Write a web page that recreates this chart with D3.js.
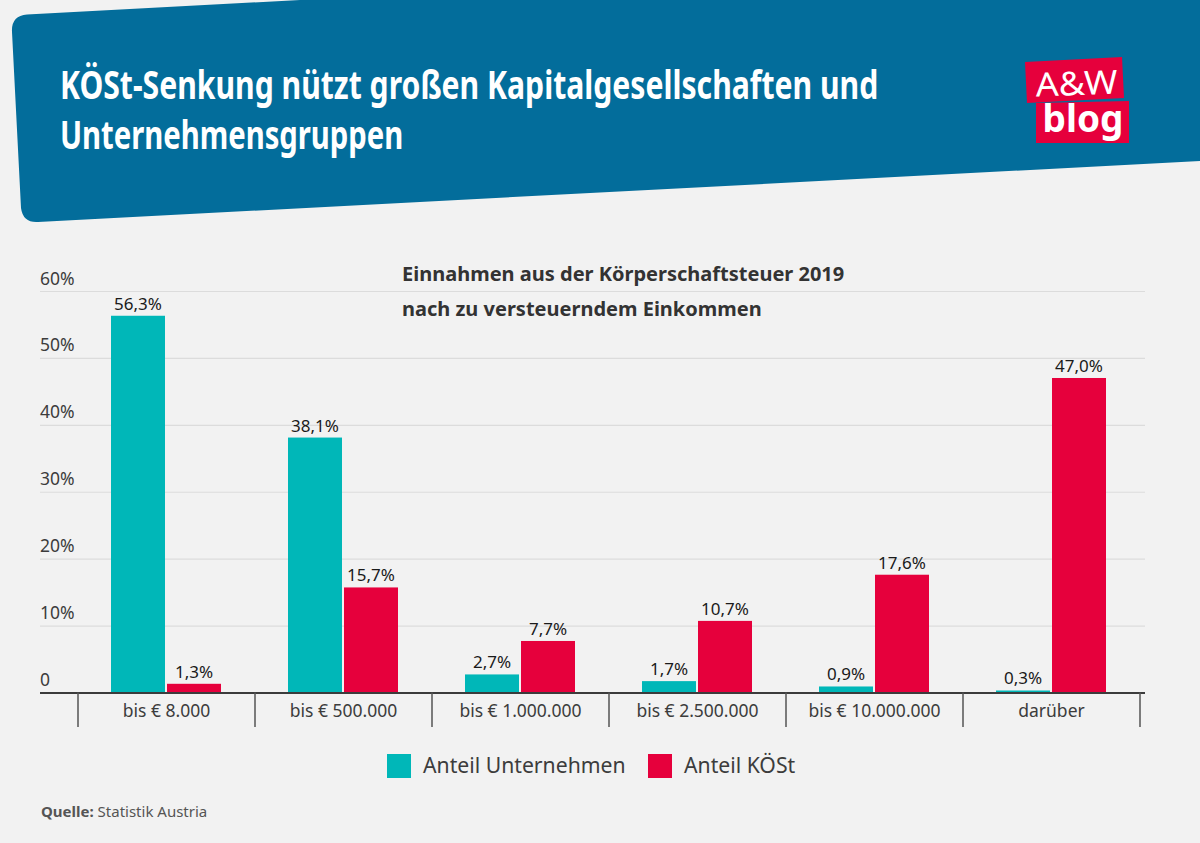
<!DOCTYPE html>
<html lang="de">
<head>
<meta charset="utf-8">
<title>KÖSt-Senkung</title>
<script src="https://cdn.jsdelivr.net/npm/d3@7/dist/d3.min.js"></script>
<style>
  html, body { margin: 0; padding: 0; background: #f2f2f2; }
  svg { display: block; }
  text { font-family: "Noto Sans", "Open Sans", sans-serif; }
</style>
</head>
<body>
<svg id="chart" width="1200" height="843"></svg>
<script>
const categories = ['bis € 8.000', 'bis € 500.000', 'bis € 1.000.000', 'bis € 2.500.000', 'bis € 10.000.000', 'darüber'];
const shareCompanies = [56.3, 38.1, 2.7, 1.7, 0.9, 0.3];
const shareTax = [1.3, 15.7, 7.7, 10.7, 17.6, 47.0];
const seriesNames = ['Anteil Unternehmen', 'Anteil KÖSt'];
const yTicks = [0, 10, 20, 30, 40, 50, 60];
const titleLines = ['KÖSt-Senkung nützt großen Kapitalgesellschaften und', 'Unternehmensgruppen'];
const subtitleLines = ['Einnahmen aus der Körperschaftsteuer 2019', 'nach zu versteuerndem Einkommen'];

const TEAL = '#00b7b8', RED = '#e6003c', BLUE = '#036d9b', INK = '#3c3c3c';
const svg = d3.select('#chart');

// Header band, slanted
svg.append('path').attr('fill', BLUE)
  .attr('d', 'M12,32 Q11,16 27,14.5 L300,0 L1200,0 L1200,161 L38,222 Q23,223 21,208 Z');

// Title, squeezed because no narrow PT Sans is available
const titleScale = [0.754, 0.731];
const title = svg.append('g').attr('fill', '#fff').attr('font-weight', 700);
titleLines.forEach((line, i) => {
  title.append('text').attr('transform', `translate(60,${99 + i * 50}) scale(${titleScale[i]},1)`)
    .attr('font-size', 40).text(line);
});

// Logo
const logo = svg.append('g');
logo.append('path').attr('fill', RED).attr('d', 'M1025,62 L1122,57 L1124,98 L1027,103 Z');
logo.append('path').attr('fill', RED).attr('d', 'M1036,103 L1129,101 L1129,143 L1036,143 Z');
logo.append('text').attr('x', 1077).attr('y', 95).attr('text-anchor', 'middle')
  .attr('transform', 'rotate(-2 1077 95)')
  .attr('fill', '#fff').attr('font-size', 33).attr('textLength', 82).attr('lengthAdjust', 'spacingAndGlyphs').text('A&W');
logo.append('text').attr('x', 1083).attr('y', 132).attr('text-anchor', 'middle')
  .attr('fill', '#fff').attr('font-size', 37).attr('font-weight', 700).text('blog');

// Scales
const y = d3.scaleLinear().domain([0, 60]).range([692.5, 291]);
const x = d3.scaleBand().domain(categories).range([78, 1140]);
const inner = d3.scaleBand().domain([0, 1]).range([33, 143]).paddingInner(0.036);

// Grid lines and y labels
const axisY = svg.append('g').attr('transform', 'translate(40,0)')
  .call(d3.axisLeft(y).tickValues(yTicks).tickSize(-1105).tickFormat(d => d === 0 ? '0' : d + '%'));
axisY.select('.domain').remove();
axisY.selectAll('.tick line').attr('stroke', '#dcdcdc').attr('stroke-width', 1.2);
axisY.selectAll('.tick text').attr('x', 0).attr('dy', -7).attr('text-anchor', 'start')
  .style('font-family', '"Noto Sans", sans-serif').attr('font-size', 17.5).attr('fill', INK);
axisY.selectAll('.tick').filter(d => d === 0).select('line').remove();

// Bars
const series = [shareCompanies, shareTax];
const colors = [TEAL, RED];
series.forEach((vals, s) => {
  const g = svg.append('g');
  g.selectAll('rect').data(vals).join('rect')
    .attr('x', (d, i) => x(categories[i]) + inner(s))
    .attr('y', d => y(d))
    .attr('width', inner.bandwidth())
    .attr('height', d => y(0) - y(d))
    .attr('fill', colors[s]);
  g.selectAll('text').data(vals).join('text')
    .attr('x', (d, i) => x(categories[i]) + inner(s) + inner.bandwidth() / 2)
    .attr('y', d => y(d) - 6)
    .attr('text-anchor', 'middle').attr('font-size', 17).attr('fill', '#1a1a1a')
    .text(d => d.toFixed(1).replace('.', ',') + '%');
});

// X axis
const boundaries = categories.map(c => x(c)).concat(x.range()[1]);
svg.append('line').attr('x1', 40).attr('x2', 1145).attr('y1', y(0) + 0.5).attr('y2', y(0) + 0.5)
  .attr('stroke', INK).attr('stroke-width', 2);
svg.append('g').selectAll('line').data(boundaries).join('line')
  .attr('x1', d => d).attr('x2', d => d).attr('y1', y(0)).attr('y2', 727)
  .attr('stroke', '#555').attr('stroke-width', 1.5);
svg.append('g').selectAll('text').data(categories).join('text')
  .attr('x', d => x(d) + x.bandwidth() / 2).attr('y', 717)
  .attr('text-anchor', 'middle').attr('font-size', 17.5).attr('fill', INK).text(d => d);

// Subtitle
subtitleLines.forEach((line, i) => {
  svg.append('text').attr('x', 402).attr('y', 280.5 + i * 35.5)
    .attr('font-size', 20).attr('font-weight', 700).attr('fill', '#333').text(line);
});

// Legend
const legendX = [387, 648];
seriesNames.forEach((name, i) => {
  svg.append('rect').attr('x', legendX[i]).attr('y', 754).attr('width', 24).attr('height', 24).attr('fill', colors[i]);
  svg.append('text').attr('x', legendX[i] + 36).attr('y', 773)
    .attr('font-size', 21.2).attr('fill', INK).text(name);
});

// Source
const src = svg.append('text').attr('x', 41).attr('y', 817).attr('font-size', 15).attr('fill', '#555');
src.append('tspan').attr('font-weight', 700).text('Quelle:');
src.append('tspan').text(' Statistik Austria');
</script>
</body>
</html>
